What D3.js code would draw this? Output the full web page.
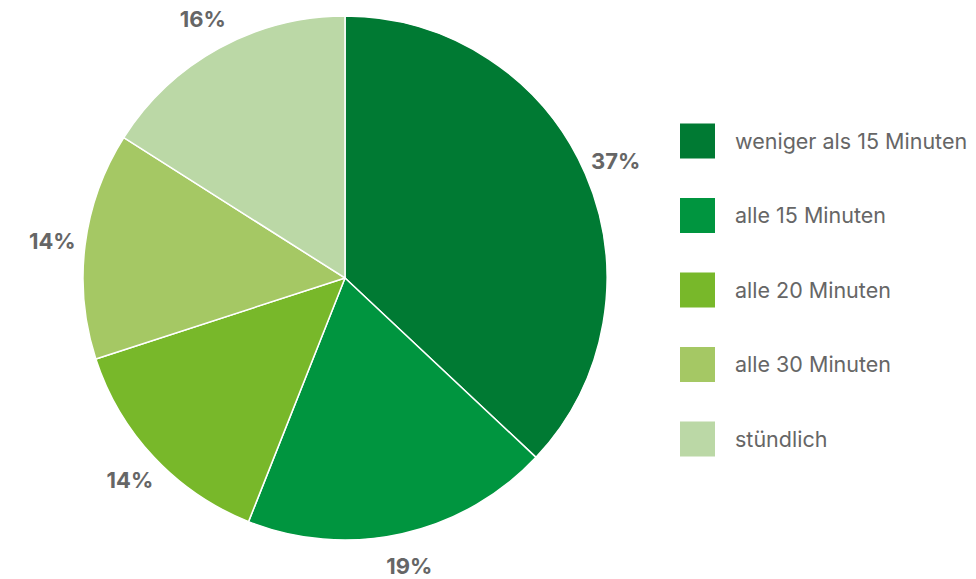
<!DOCTYPE html>
<html>
<head>
<meta charset="utf-8">
<script src="https://cdn.jsdelivr.net/npm/d3@7"></script>
<style>
  body { margin: 0; background: #fff; }
  svg { display: block; }
  .lbl { font-family: Inter, "Open Sans", sans-serif; font-weight: 700; font-size: 22px; fill: #666; }
  .leg { font-family: Inter, "Open Sans", sans-serif; font-size: 21.5px; fill: #666; }
</style>
</head>
<body>
<svg id="chart" width="976" height="579"></svg>
<script>
var categories = ["weniger als 15 Minuten", "alle 15 Minuten", "alle 20 Minuten", "alle 30 Minuten", "stündlich"];
var values = [37, 19, 14, 14, 16];
var colors = ["#007a33", "#00953f", "#78b82a", "#a5c864", "#bbd8a6"];

var cx = 345, cy = 278, radius = 262;
var svg = d3.select("#chart");

var data = categories.map(function (c, i) { return { name: c, value: values[i], color: colors[i] }; });

var pie = d3.pie().sort(null).value(function (d) { return d.value; });
var arcs = pie(data);
var arc = d3.arc().innerRadius(0).outerRadius(radius);
var labelArc = d3.arc().innerRadius(295).outerRadius(295);

var g = svg.append("g").attr("transform", "translate(" + cx + "," + cy + ")");

g.selectAll("path").data(arcs).enter().append("path")
  .attr("d", arc)
  .attr("fill", function (d) { return d.data.color; })
  .attr("stroke", "#fff")
  .attr("stroke-width", 1.5);

g.selectAll("text").data(arcs).enter().append("text")
  .attr("class", "lbl")
  .attr("x", function (d) { return labelArc.centroid(d)[0]; })
  .attr("y", function (d) { return labelArc.centroid(d)[1]; })
  .attr("text-anchor", "middle")
  .attr("dy", "0.35em")
  .text(function (d) { return d.data.value + "%"; });

// legend
var legY = d3.scalePoint().domain(categories).range([141, 439]);
var leg = svg.append("g").selectAll("g").data(data).enter().append("g")
  .attr("transform", function (d) { return "translate(680," + legY(d.name) + ")"; });

leg.append("rect")
  .attr("x", 0).attr("y", -17.5)
  .attr("width", 35).attr("height", 35)
  .attr("fill", function (d) { return d.color; });

leg.append("text")
  .attr("class", "leg")
  .attr("x", 55)
  .attr("dy", "0.35em")
  .text(function (d) { return d.name; });
</script>
</body>
</html>
